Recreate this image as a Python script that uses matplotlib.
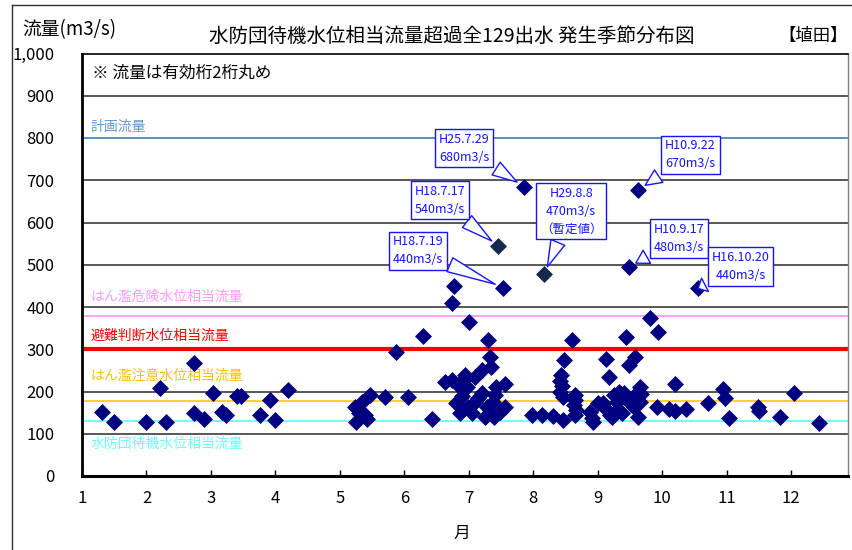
import matplotlib
matplotlib.use("Agg")
import matplotlib.pyplot as plt
from matplotlib.lines import Line2D

plt.rcParams['font.family'] = ['Noto Sans CJK JP', 'DejaVu Sans']

# ---- data -------------------------------------------------------------
months = [1.31, 1.50, 1.99, 2.21, 2.31, 2.74, 2.74, 2.90, 3.03, 3.17, 3.23, 3.40, 3.47,
          3.76, 3.92, 4.00, 4.20,
          5.24, 5.25, 5.34, 5.39, 5.42, 5.47, 5.30, 5.70, 5.87, 6.06, 6.29, 6.43,
          6.77, 6.74, 7.53, 7.01, 7.30, 7.33, 7.35, 7.20, 7.10, 6.94, 6.92, 6.63,
          6.74, 6.84, 6.97, 7.20, 7.56, 7.43, 7.41, 6.81, 6.86, 6.99, 7.10, 7.28,
          7.25, 7.33, 7.49, 7.56, 7.15, 6.90, 7.38, 7.05, 7.40,
          7.86, 7.98, 8.13, 8.31, 8.47, 8.43, 8.42, 8.44, 8.42, 8.47, 8.48, 8.61,
          8.65, 8.65, 8.64, 8.67, 8.65, 8.88, 8.91, 9.01, 9.11, 9.19, 9.30, 8.93,
          9.13, 9.17, 9.44, 9.49, 9.58, 9.48, 9.63, 9.82, 9.94, 9.65, 9.62, 9.60,
          9.65, 9.33, 9.26, 9.41, 9.44, 9.22, 9.62, 9.56, 9.30, 9.09, 9.92, 10.10,
          10.20, 10.37, 10.20, 10.56, 10.72, 10.94, 10.98, 11.04, 11.49, 11.50,
          11.83, 12.05, 12.44, 9.52, 9.38, 9.68]
flows = [152, 128, 128, 208, 128, 268, 148, 134, 197, 152, 144, 189, 189,
         144, 180, 133, 204,
         164, 128, 176, 144, 134, 192, 150, 188, 294, 188, 331, 134,
         450, 410, 446, 365, 322, 282, 259, 251, 235, 239, 227, 223,
         227, 215, 211, 196, 218, 211, 192, 172, 148, 164, 176, 164,
         140, 152, 152, 164, 185, 190, 175, 150, 140,
         685, 144, 144, 142, 133, 239, 226, 212, 200, 188, 275, 322,
         192, 180, 168, 156, 144, 152, 137, 172, 160, 144, 176, 128,
         276, 235, 328, 263, 282, 494, 677, 373, 342, 211, 200, 188,
         176, 200, 192, 196, 184, 140, 140, 164, 156, 172, 163, 159,
         155, 158, 218, 444, 172, 207, 184, 137, 164, 155,
         140, 196, 125, 170, 150, 195]

# provisional / different-colour points
special_months = [7.46, 8.17]
special_flows = [544, 477]

# reference levels (m3/s)
level_names = ['計画流量', 'はん濫危険水位相当流量', '避難判断水位相当流量',
               'はん濫注意水位相当流量', '水防団待機水位相当流量']
level_values = [800, 379, 300, 177, 131]

# annotations: label, target month, target flow
ann_labels = ['H25.7.29\n680m3/s', 'H10.9.22\n670m3/s', 'H18.7.17\n540m3/s',
              'H29.8.8\n470m3/s\n（暫定値）', 'H10.9.17\n480m3/s',
              'H18.7.19\n440m3/s', 'H16.10.20\n440m3/s']
ann_months = [7.86, 9.63, 7.46, 8.17, 9.48, 7.53, 10.56]
ann_flows = [685, 677, 544, 477, 494, 446, 444]

xticks = list(range(1, 13))
yticks = list(range(0, 1001, 100))
ytick_labels = ['0', '100', '200', '300', '400', '500', '600', '700', '800', '900', '1,000']

# ---- figure -----------------------------------------------------------
W, H = 852, 550
fig = plt.figure(figsize=(W / 100, H / 100), dpi=100)
ax = fig.add_axes([82 / W, 1 - 476 / H, (848 - 82) / W, (476 - 53.5) / H])

ax.set_xlim(1, 12.885)
ax.set_ylim(0, 1000)

# grid lines
for v in yticks[1:-1]:
    ax.axhline(v, color='#4a4a4a', lw=1.3, zorder=1)

level_colors = ['#5b9bd5', '#ff99ff', '#ff0000', '#ffc000', '#66ffff']
level_lw = [1.3, 1.3, 3.0, 1.1, 1.3]
level_text_y = [826, 424, 331, 237, 76]
for name, val, c, lw, ty in zip(level_names, level_values, level_colors, level_lw, level_text_y):
    ax.axhline(val, color=c, lw=lw, zorder=2)
    ax.text(1.13, ty, name, color=c, fontsize=10, va='center', ha='left', zorder=3)

ax.text(1.16, 954, '※ 流量は有効桁2桁丸め', fontsize=12, va='center', ha='left', color='black')

# points
ax.scatter(months, flows, marker='D', s=75, color='#000080', zorder=5, linewidths=0)
ax.scatter(special_months, special_flows, marker='D', s=75, color='#132a4d', zorder=5, linewidths=0)

# annotation callouts
text_pos = [(6.93, 776), (10.44, 760), (6.55, 653), (8.59, 627), (10.26, 562),
            (6.21, 533), (11.22, 496)]
for lab, mx, fy, (tx, ty) in zip(ann_labels, ann_months, ann_flows, text_pos):
    ax.annotate(lab, xy=(mx, fy), xytext=(tx, ty), textcoords='data',
                ha='center', va='center', fontsize=9, color='#1414ff',
                linespacing=1.5, zorder=6,
                bbox=dict(boxstyle='square,pad=0.3', fc='white', ec='#1414ff', lw=1.0),
                arrowprops=dict(arrowstyle='wedge,tail_width=0.9,shrink_factor=0.5',
                                fc='white', ec='#1414ff', lw=1.0, shrinkB=6,
                                mutation_scale=12))

# axes styling
ax.set_xticks(xticks)
ax.set_xticklabels([str(m) for m in xticks], fontsize=12)
ax.set_yticks(yticks)
ax.set_yticklabels(ytick_labels, fontsize=12)
ax.tick_params(axis='x', direction='in', length=4, width=1, pad=10)
ax.tick_params(axis='y', length=0, pad=20)
for lbl in ax.get_yticklabels():
    lbl.set_horizontalalignment('right')

ax.spines['left'].set_linewidth(2)
ax.spines['bottom'].set_linewidth(2.2)
ax.spines['top'].set_linewidth(1.2)
ax.spines['right'].set_linewidth(1)
ax.spines['right'].set_color('#808080')

# titles and labels
fig.text(452 / W, 1 - 36 / H, '水防団待機水位相当流量超過全129出水 発生季節分布図',
         fontsize=14, ha='center', va='center')
fig.text(22 / W, 1 - 30 / H, '流量(m3/s)', fontsize=13.5, ha='left', va='center')
fig.text(848 / W, 1 - 36 / H, '【埴田】', fontsize=12.5, ha='right', va='center')
fig.text(462 / W, 1 - 533 / H, '月', fontsize=12, ha='center', va='center')

# outer frame (partially visible)
fig.add_artist(Line2D([12 / W, 12 / W], [0, 1 - 5 / H], color='#303030', lw=1))
fig.add_artist(Line2D([12 / W, 1], [1 - 5 / H, 1 - 5 / H], color='#303030', lw=1))

fig.savefig('out.png', dpi=100)
